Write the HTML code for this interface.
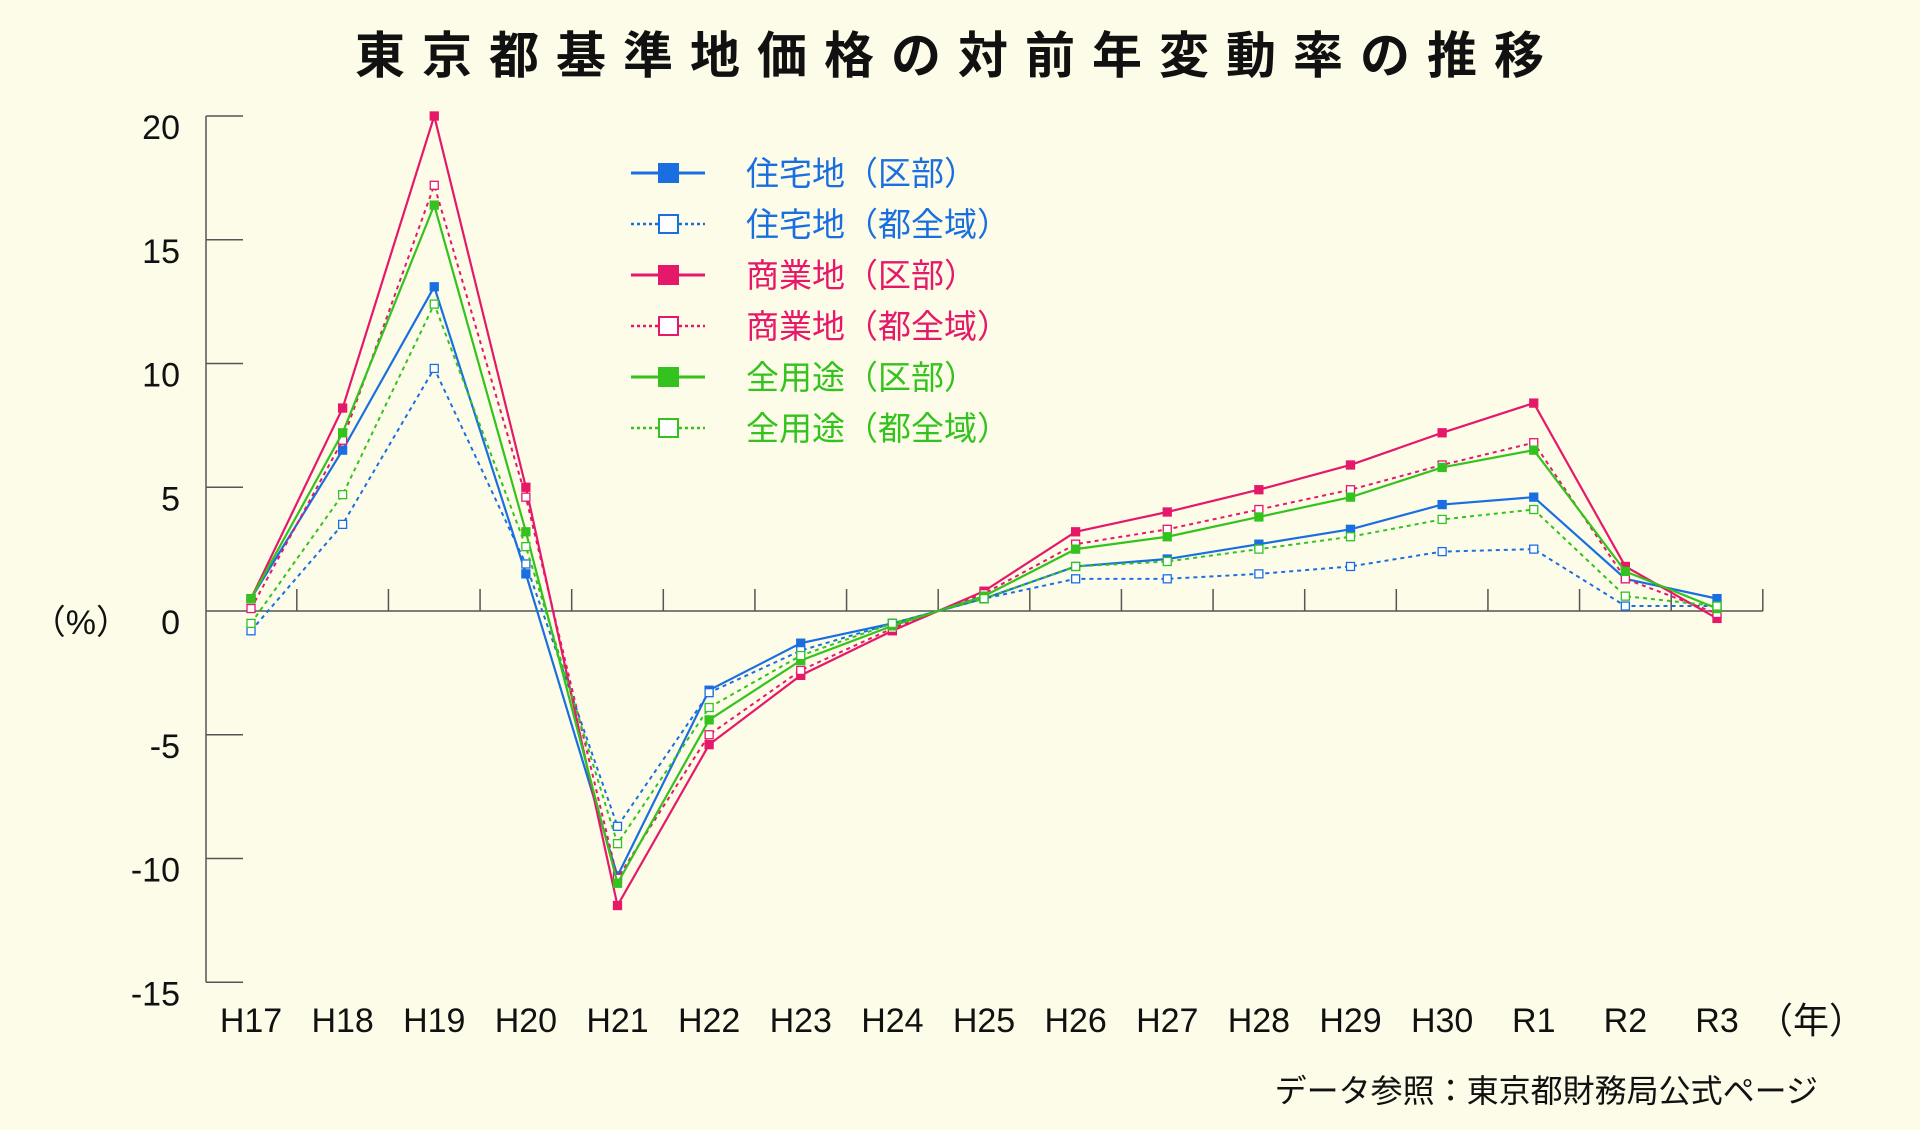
<!DOCTYPE html>
<html><head><meta charset="utf-8"><style>
html,body{margin:0;padding:0;background:#fdfce9;}
svg{display:block;}
text{font-family:"Liberation Sans","Noto Sans CJK JP",sans-serif;}
</style></head><body>
<svg id="chart" width="1920" height="1130" viewBox="0 0 1920 1130" xmlns="http://www.w3.org/2000/svg">
<rect width="1920" height="1130" fill="#fdfce9"/>
<text x="958" y="73" text-anchor="middle" font-size="50" font-weight="bold" letter-spacing="17" fill="#111">東京都基準地価格の対前年変動率の推移</text>
<g id="axes"></g>
<g id="series"></g>
<g id="legend"></g>
<text x="1757" y="1033" font-size="36" fill="#111">（年）</text>
<text x="1818" y="1102" text-anchor="end" font-size="32" fill="#111">データ参照：東京都財務局公式ページ</text>
</svg>
<script>
const categories = ["H17","H18","H19","H20","H21","H22","H23","H24","H25","H26","H27","H28","H29","H30","R1","R2","R3"];
const yTicks = [20,15,10,5,0,-5,-10,-15];
const seriesNames = ["住宅地（区部）","住宅地（都全域）","商業地（区部）","商業地（都全域）","全用途（区部）","全用途（都全域）"];
const resKu = [0.5,6.5,13.1,1.5,-10.7,-3.2,-1.3,-0.5,0.5,1.8,2.1,2.7,3.3,4.3,4.6,1.3,0.5];
const resTo = [-0.8,3.5,9.8,1.9,-8.7,-3.3,-1.6,-0.5,0.5,1.3,1.3,1.5,1.8,2.4,2.5,0.2,0.2];
const comKu = [0.5,8.2,20.0,5.0,-11.9,-5.4,-2.6,-0.8,0.8,3.2,4.0,4.9,5.9,7.2,8.4,1.8,-0.3];
const comTo = [0.1,6.9,17.2,4.6,-10.8,-5.0,-2.4,-0.7,0.7,2.7,3.3,4.1,4.9,5.9,6.8,1.3,-0.1];
const allKu = [0.5,7.2,16.4,3.2,-11.0,-4.4,-2.0,-0.6,0.6,2.5,3.0,3.8,4.6,5.8,6.5,1.6,0.1];
const allTo = [-0.5,4.7,12.4,2.6,-9.4,-3.9,-1.8,-0.5,0.5,1.8,2.0,2.5,3.0,3.7,4.1,0.6,0.2];

const NS="http://www.w3.org/2000/svg";
const x0=251, dx=(1717-251)/16;
function xs(i){return x0+i*dx;}
function ys(v){return 611 - v*(495/20);}
function mk(tag,attrs,parent){const e=document.createElementNS(NS,tag);for(const k in attrs)e.setAttribute(k,attrs[k]);parent.appendChild(e);return e;}
const axes=document.getElementById('axes');
const ser=document.getElementById('series');
const leg=document.getElementById('legend');
const axc="#555";
let e=mk('line',{x1:206,y1:ys(20),x2:206,y2:ys(-15),stroke:axc,'stroke-width':1.5},axes);


e=mk('line',{x1:206,y1:ys(0),x2:1763,y2:ys(0),stroke:axc,'stroke-width':1.5},axes);


yTicks.forEach(v=>{
  if(v!==0){const t=mk('line',{x1:206,y1:ys(v),x2:243,y2:ys(v),stroke:axc,'stroke-width':1.5},axes);
  
  }
  const l=mk('text',{x:180,y:ys(v)+23,'text-anchor':'end','font-size':34,fill:'#111'},axes);
  l.textContent=String(v);
  
  
});
const pl=mk('text',{x:130,y:ys(0)+23,'text-anchor':'end','font-size':34,fill:'#111'},axes);
pl.textContent="（%）";


categories.forEach((c,i)=>{
  const tx=xs(i)+dx/2;
  const t=mk('line',{x1:tx,y1:ys(0),x2:tx,y2:ys(0)-22,stroke:axc,'stroke-width':1.5},axes);
  
  
  const l=mk('text',{x:xs(i),y:1032,'text-anchor':'middle','font-size':34,fill:'#111'},axes);
  l.textContent=c;
  
  
});
const blue="#1a6fe0", red="#e6186a", green="#34c21f";
const defs=[
 {d:resKu,c:blue,dash:false},{d:resTo,c:blue,dash:true},
 {d:comKu,c:red,dash:false},{d:comTo,c:red,dash:true},
 {d:allKu,c:green,dash:false},{d:allTo,c:green,dash:true}];
defs.forEach((s,k)=>{
  const g=mk('g',{},ser);
  
  
  const pts=s.d.map((v,i)=>xs(i)+','+ys(v)).join(' ');
  const a={points:pts,fill:'none',stroke:s.c,'stroke-width':s.dash?2:2.2};
  if(s.dash)a['stroke-dasharray']='4 4';
  const p=mk('polyline',a,g);
  
  
  s.d.forEach((v,i)=>{
    const m=mk('rect',{x:xs(i)-4,y:ys(v)-4,width:8,height:8,fill:s.dash?'#fff':s.c,stroke:s.c,'stroke-width':1.3},g);
    
    
  });
  const ly=173+k*51;
  const lg=mk('g',{},leg);
  
  
  const la={x1:631,y1:ly,x2:705,y2:ly,stroke:s.c,'stroke-width':s.dash?2.5:3};
  if(s.dash)la['stroke-dasharray']='3 3';
  mk('line',la,lg);
  mk('rect',{x:659,y:ly-9,width:19,height:18,fill:s.dash?'#fff':s.c,stroke:s.c,'stroke-width':2},lg);
  const lt=mk('text',{x:746,y:ly+12,'font-size':33,fill:s.c},lg);
  lt.textContent=seriesNames[k];
  
  
});
</script>
</body></html>
